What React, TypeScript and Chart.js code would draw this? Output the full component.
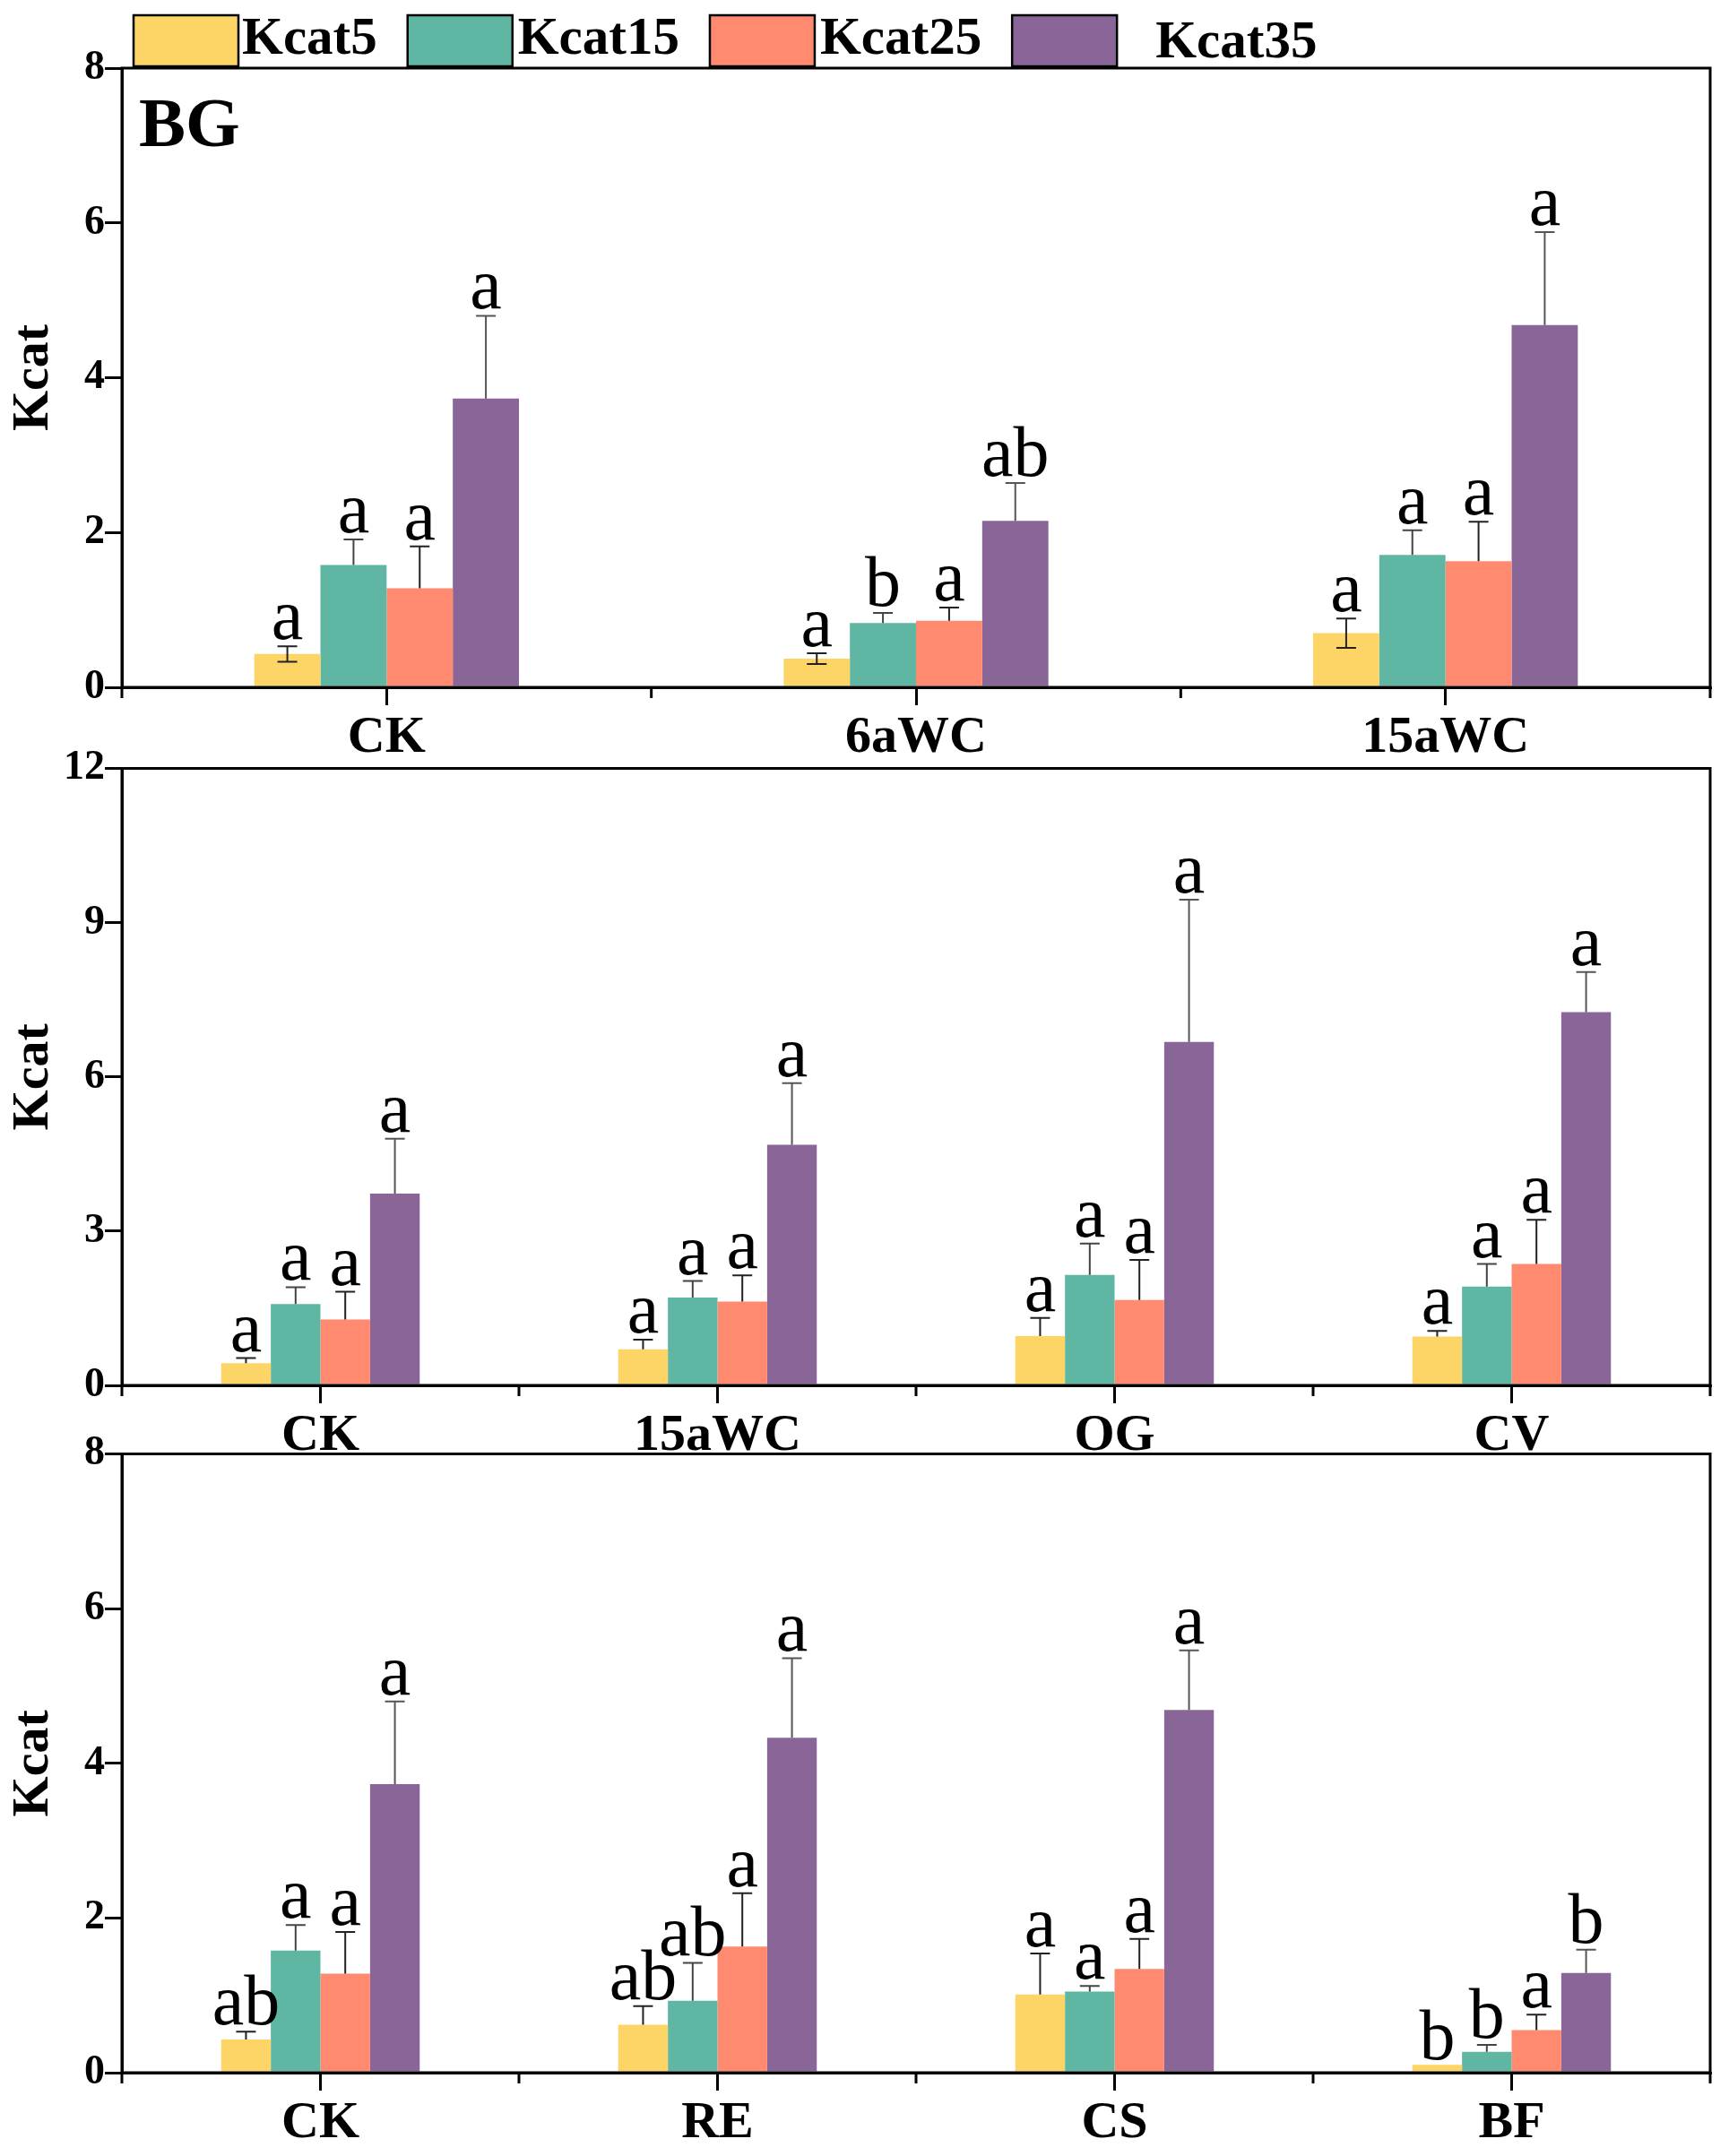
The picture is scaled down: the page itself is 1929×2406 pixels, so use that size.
import React, { useEffect, useRef } from 'react';
import { Chart, registerables } from 'chart.js';

Chart.register(...registerables);

const FONT = '"Liberation Serif", "Times New Roman", Times, serif';

// ---- shared ----
const seriesLabels = ['Kcat5', 'Kcat15', 'Kcat25', 'Kcat35'];
const seriesColors = ['#FDD466', '#5FB7A3', '#FF8A70', '#8A6698'];
const errorColors = ['#222222', '#444444', '#222222', '#555555'];

// ---- panel 1 (BG) ----
const cats1 = ['CK', '6aWC', '15aWC'];
const k5_1 = [0.43, 0.37, 0.7];
const k15_1 = [1.58, 0.83, 1.71];
const k25_1 = [1.28, 0.86, 1.63];
const k35_1 = [3.73, 2.15, 4.68];
const e5_1 = [0.1, 0.07, 0.19];
const e15_1 = [0.33, 0.13, 0.32];
const e25_1 = [0.54, 0.17, 0.51];
const e35_1 = [1.07, 0.49, 1.2];
const l5_1 = ['a', 'a', 'a'];
const l15_1 = ['a', 'b', 'a'];
const l25_1 = ['a', 'a', 'a'];
const l35_1 = ['a', 'ab', 'a'];

// ---- panel 2 ----
const cats2 = ['CK', '15aWC', 'OG', 'CV'];
const k5_2 = [0.43, 0.7, 0.96, 0.95];
const k15_2 = [1.58, 1.71, 2.15, 1.92];
const k25_2 = [1.28, 1.63, 1.66, 2.36];
const k35_2 = [3.73, 4.68, 6.68, 7.26];
const e5_2 = [0.1, 0.19, 0.35, 0.11];
const e15_2 = [0.33, 0.32, 0.61, 0.44];
const e25_2 = [0.54, 0.51, 0.78, 0.86];
const e35_2 = [1.07, 1.2, 2.77, 0.78];
const l5_2 = ['a', 'a', 'a', 'a'];
const l15_2 = ['a', 'a', 'a', 'a'];
const l25_2 = ['a', 'a', 'a', 'a'];
const l35_2 = ['a', 'a', 'a', 'a'];

// ---- panel 3 ----
const cats3 = ['CK', 'RE', 'CS', 'BF'];
const k5_3 = [0.43, 0.62, 1.01, 0.1];
const k15_3 = [1.58, 0.93, 1.05, 0.27];
const k25_3 = [1.28, 1.63, 1.34, 0.55];
const k35_3 = [3.73, 4.33, 4.69, 1.29];
const e5_3 = [0.1, 0.24, 0.53, 0];
const e15_3 = [0.33, 0.49, 0.07, 0.09];
const e25_3 = [0.54, 0.69, 0.39, 0.2];
const e35_3 = [1.07, 1.03, 0.77, 0.3];
const l5_3 = ['ab', 'ab', 'a', 'b'];
const l15_3 = ['a', 'ab', 'a', 'b'];
const l25_3 = ['a', 'a', 'a', 'a'];
const l35_3 = ['a', 'a', 'a', 'b'];

const W = 1929;
const legendTextGap = [4, 6, 6, 43];

const framePlugin = {
  id: 'frame',
  afterDatasetsDraw(chart: any) {
    const { ctx, chartArea: a } = chart;
    ctx.save();
    ctx.strokeStyle = '#000';
    ctx.lineWidth = 3;
    ctx.beginPath();
    ctx.moveTo(a.left, a.bottom);
    ctx.lineTo(a.left, a.top);
    ctx.lineTo(a.right, a.top);
    ctx.lineTo(a.right, a.bottom);
    ctx.lineTo(a.left, a.bottom);
    ctx.stroke();
    const n = chart.data.labels.length;
    const step = (a.right - a.left) / n;
    ctx.beginPath();
    for (let k = 0; k <= n; k++) {
      const x = a.left + k * step;
      ctx.moveTo(x, a.bottom);
      ctx.lineTo(x, a.bottom + 12);
    }
    ctx.stroke();
    ctx.restore();
  },
};

const errPlugin = {
  id: 'errLetters',
  afterDatasetsDraw(chart: any, _args: any, opts: any) {
    const { ctx } = chart;
    const yScale = chart.scales.y;
    ctx.save();
    chart.data.datasets.forEach((ds: any, i: number) => {
      const meta = chart.getDatasetMeta(i);
      const errs = opts.errors[i];
      const lets = opts.letters[i];
      const sym = opts.symmetric && opts.symmetric[i];
      meta.data.forEach((bar: any, j: number) => {
        const v = ds.data[j];
        const e = errs[j];
        const x = bar.x;
        const yv = yScale.getPixelForValue(v);
        const yt = yScale.getPixelForValue(v + e);
        ctx.strokeStyle = errorColors[i];
        ctx.lineWidth = 2;
        if (e > 0) {
          ctx.beginPath();
          ctx.moveTo(x, yv);
          ctx.lineTo(x, yt);
          ctx.moveTo(x - 11, yt);
          ctx.lineTo(x + 11, yt);
          if (sym) {
            const yb = yScale.getPixelForValue(v - e);
            ctx.moveTo(x, yv);
            ctx.lineTo(x, yb);
            ctx.moveTo(x - 11, yb);
            ctx.lineTo(x + 11, yb);
          }
          ctx.stroke();
        }
        ctx.fillStyle = '#000';
        ctx.font = `80px ${FONT}`;
        ctx.textAlign = 'center';
        ctx.textBaseline = 'alphabetic';
        ctx.fillText(lets[j], x, yt - (e > 0 ? 8 : 6));
      });
    });
    ctx.restore();
  },
};

const decorPlugin = {
  id: 'decor',
  afterDraw(chart: any, _args: any, opts: any) {
    const { ctx, chartArea: a } = chart;
    ctx.save();
    if (opts.tag) {
      ctx.fillStyle = '#000';
      ctx.font = `bold 78px ${FONT}`;
      ctx.textAlign = 'left';
      ctx.textBaseline = 'alphabetic';
      ctx.fillText(opts.tag, a.left + 19, a.top + 87);
    }
    if (opts.legend) {
      let x = 149;
      ctx.font = `bold 59px ${FONT}`;
      ctx.textAlign = 'left';
      ctx.textBaseline = 'alphabetic';
      chart.data.datasets.forEach((ds: any, i: number) => {
        ctx.fillStyle = ds.backgroundColor;
        ctx.fillRect(x, 17, 117, 57);
        ctx.strokeStyle = '#000';
        ctx.lineWidth = 2.5;
        ctx.strokeRect(x, 17, 117, 57);
        ctx.fillStyle = '#000';
        const tx = x + 117 + legendTextGap[i];
        ctx.fillText(ds.label, tx, i === 3 ? 64 : 60);
        x = tx + ctx.measureText(ds.label).width + 34;
      });
    }
    ctx.restore();
  },
};

type PanelProps = {
  top: number;
  height: number;
  chartTop: number;
  chartBottom: number;
  categories: string[];
  values: number[][];
  errors: number[][];
  letters: string[][];
  symmetric: boolean[];
  yMax: number;
  yStep: number;
  tag?: string;
  legend?: boolean;
};

function Panel(p: PanelProps) {
  const ref = useRef<HTMLCanvasElement>(null);
  useEffect(() => {
    if (!ref.current) return;
    const chart = new Chart(ref.current, {
      type: 'bar',
      data: {
        labels: p.categories,
        datasets: p.values.map((vals, i) => ({
          label: seriesLabels[i],
          data: vals,
          backgroundColor: seriesColors[i],
          borderWidth: 0,
          barPercentage: 1.0,
          categoryPercentage: 0.5,
        })),
      },
      options: {
        responsive: false,
        animation: false,
        devicePixelRatio: 1,
        layout: { padding: { top: p.chartTop, right: W - 1908, left: 0, bottom: 0 } },
        plugins: {
          legend: { display: false },
          tooltip: { enabled: false },
          errLetters: { errors: p.errors, letters: p.letters, symmetric: p.symmetric },
          decor: { tag: p.tag, legend: p.legend },
        } as any,
        scales: {
          x: {
            type: 'category',
            offset: true,
            grid: {
              offset: false,
              drawOnChartArea: false,
              drawTicks: true,
              tickLength: 20,
              lineWidth: 3,
              color: '#000',
            },
            border: { display: true, color: '#000', width: 3 },
            ticks: {
              color: '#000',
              font: { family: FONT, size: 58, weight: 'bold' },
              padding: 2,
              maxRotation: 0,
              autoSkip: false,
            },
            afterFit: (s: any) => {
              s.height = p.height - p.chartBottom;
            },
          },
          y: {
            min: 0,
            max: p.yMax,
            ticks: {
              stepSize: p.yStep,
              color: '#000',
              font: { family: FONT, size: 46, weight: 'bold' },
              padding: 0,
            },
            grid: {
              drawOnChartArea: false,
              drawTicks: true,
              tickLength: 19,
              lineWidth: 3,
              color: '#000',
            },
            border: { display: true, color: '#000', width: 3 },
            title: {
              display: true,
              text: 'Kcat',
              color: '#000',
              font: { family: FONT, size: 58, weight: 'bold' },
              padding: { top: 3, bottom: 0 },
            },
            afterFit: (s: any) => {
              s.width = 136;
            },
          },
        } as any,
      },
      plugins: [framePlugin, errPlugin, decorPlugin],
    });
    return () => chart.destroy();
  }, []);
  return (
    <canvas
      ref={ref}
      width={W}
      height={p.height}
      style={{ position: 'absolute', left: 0, top: p.top, width: W, height: p.height }}
    />
  );
}

export default function App() {
  return (
    <div style={{ position: 'absolute', left: 0, top: 0, width: W, height: 2406, background: '#fff', overflow: 'hidden' }}>
      <Panel
        top={0}
        height={860}
        chartTop={76}
        chartBottom={767}
        categories={cats1}
        values={[k5_1, k15_1, k25_1, k35_1]}
        errors={[e5_1, e15_1, e25_1, e35_1]}
        letters={[l5_1, l15_1, l25_1, l35_1]}
        symmetric={[true, false, false, false]}
        yMax={8}
        yStep={2}
        tag="BG"
        legend
      />
      <Panel
        top={830}
        height={800}
        chartTop={25}
        chartBottom={716}
        categories={cats2}
        values={[k5_2, k15_2, k25_2, k35_2]}
        errors={[e5_2, e15_2, e25_2, e35_2]}
        letters={[l5_2, l15_2, l25_2, l35_2]}
        symmetric={[false, false, false, false]}
        yMax={12}
        yStep={3}
      />
      <Panel
        top={1595}
        height={811}
        chartTop={27}
        chartBottom={718}
        categories={cats3}
        values={[k5_3, k15_3, k25_3, k35_3]}
        errors={[e5_3, e15_3, e25_3, e35_3]}
        letters={[l5_3, l15_3, l25_3, l35_3]}
        symmetric={[false, false, false, false]}
        yMax={8}
        yStep={2}
      />
    </div>
  );
}
